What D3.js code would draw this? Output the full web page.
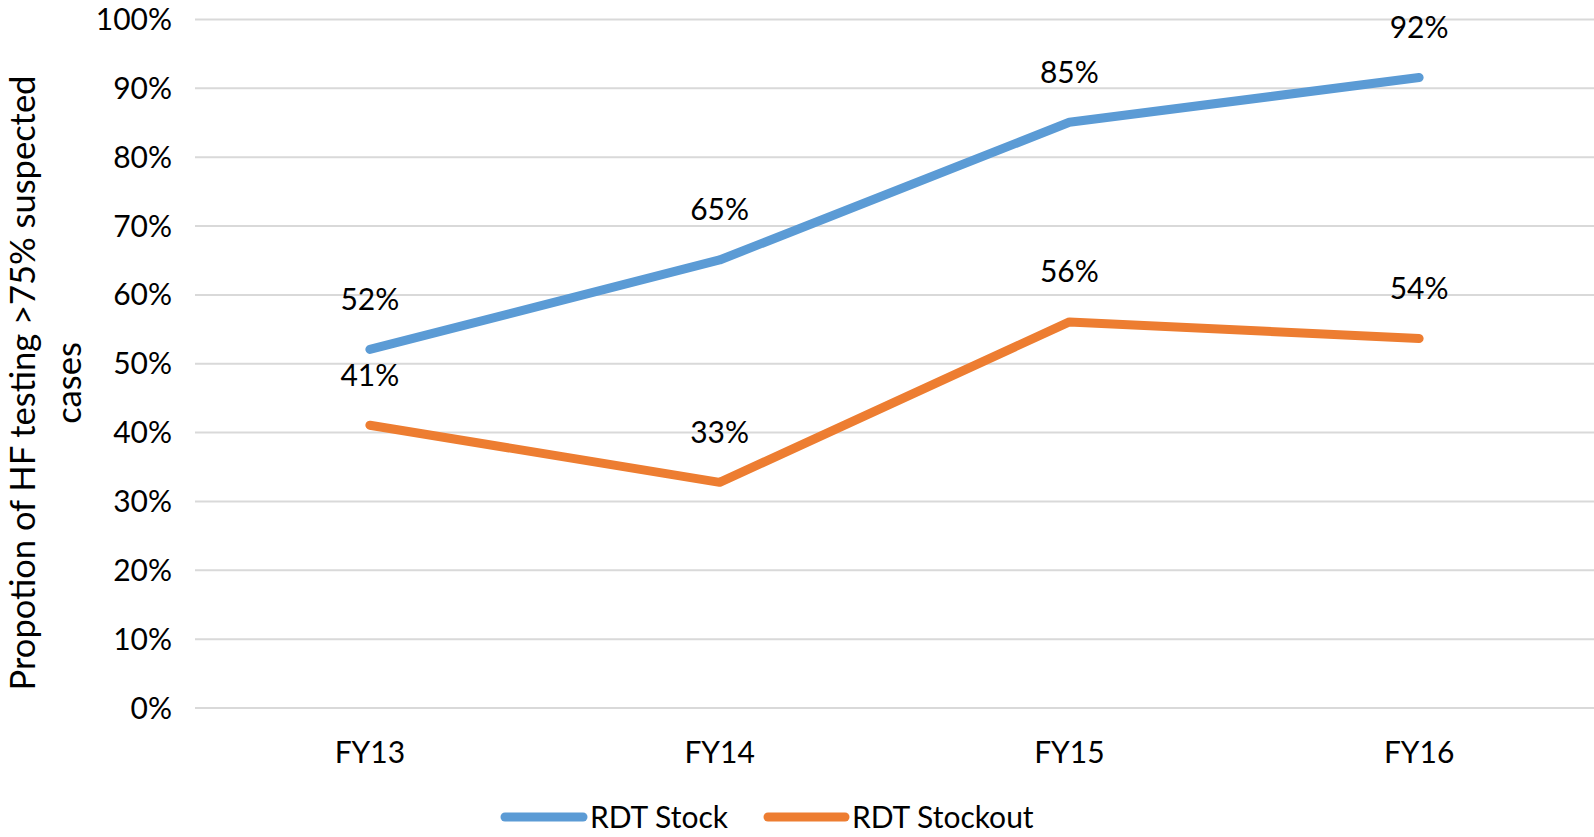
<!DOCTYPE html>
<html>
<head>
<meta charset="utf-8">
<script src="https://cdn.jsdelivr.net/npm/d3@7"></script>
<style>
  html, body { margin: 0; padding: 0; background: #fff; }
  svg text { font-family: Lato, "Open Sans", sans-serif; fill: #000; }
</style>
</head>
<body>
<svg id="chart" width="1594" height="837"></svg>
<script>
const categories = ["FY13", "FY14", "FY15", "FY16"];
const seriesNames = ["RDT Stock", "RDT Stockout"];
const rdtStock = [0.52, 0.65, 0.85, 0.915];
const rdtStockout = [0.41, 0.327, 0.56, 0.536];
const stockLabels = ["52%", "65%", "85%", "92%"];
const stockoutLabels = ["41%", "33%", "56%", "54%"];
const yTicks = [0, 0.1, 0.2, 0.3, 0.4, 0.5, 0.6, 0.7, 0.8, 0.9, 1.0];
const colors = ["#5B9BD5", "#ED7D31"];

(function () {
const svg = d3.select("#chart");
const fs = 30;
const plotLeft = 195, plotRight = 1594, plotTop = 19, plotBottom = 707.5;

const x = d3.scaleBand().domain(categories).range([plotLeft, plotRight]).padding(0);
const y = d3.scaleLinear().domain([0, 1]).range([plotBottom, plotTop]);

// gridlines + y axis labels
const yAxis = d3.axisLeft(y).tickValues(yTicks).tickFormat(d3.format(".0%"))
  .tickSize(-(plotRight - plotLeft)).tickPadding(12);
const gy = svg.append("g").attr("transform", `translate(${plotLeft},0)`).call(yAxis);
gy.select(".domain").remove();
gy.selectAll(".tick line").attr("stroke", "#D9D9D9").attr("stroke-width", 2);
gy.selectAll(".tick text").attr("font-size", fs).attr("font-family", "Lato").attr("fill", "#000").attr("dy", "0.35em").attr("x", -23);

// x axis labels
const xAxis = d3.axisBottom(x).tickSize(0).tickPadding(0);
const gx = svg.append("g").attr("transform", `translate(0,${plotBottom})`).call(xAxis);
gx.select(".domain").remove();
gx.selectAll(".tick text").attr("font-size", fs).attr("font-family", "Lato").attr("fill", "#000").attr("y", 45).attr("dy", "0.35em");

const cx = d => x(d) + x.bandwidth() / 2;
const line = d3.line().x((d, i) => cx(categories[i])).y(d => y(d));

const series = [
  { name: seriesNames[0], values: rdtStock, labels: stockLabels, color: colors[0] },
  { name: seriesNames[1], values: rdtStockout, labels: stockoutLabels, color: colors[1] }
];

series.forEach(s => {
  svg.append("path").datum(s.values).attr("d", line)
    .attr("fill", "none").attr("stroke", s.color).attr("stroke-width", 9)
    .attr("stroke-linecap", "round").attr("stroke-linejoin", "round");
});
series.forEach(s => {
  svg.append("g").selectAll("text").data(s.values).join("text")
    .attr("x", (d, i) => cx(categories[i]))
    .attr("y", d => y(d) - 50)
    .attr("dy", "0.35em")
    .attr("text-anchor", "middle")
    .attr("font-size", fs)
    .text((d, i) => s.labels[i]);
});

// y axis title
const title = svg.append("text")
  .attr("transform", "translate(0,383) rotate(-90)")
  .attr("text-anchor", "middle")
  .attr("font-size", 34.5);
title.append("tspan").attr("x", 0).attr("y", 35).text("Propotion of HF testing >75% suspected");
title.append("tspan").attr("x", 0).attr("y", 81).text("cases");

// legend
const legendItems = [
  { name: seriesNames[0], color: colors[0], x1: 505, x2: 583, tx: 590 },
  { name: seriesNames[1], color: colors[1], x1: 768, x2: 845, tx: 852 }
];
const lg = svg.append("g");
legendItems.forEach(l => {
  lg.append("line").attr("x1", l.x1).attr("x2", l.x2).attr("y1", 817).attr("y2", 817)
    .attr("stroke", l.color).attr("stroke-width", 9).attr("stroke-linecap", "round");
  lg.append("text").attr("x", l.tx).attr("y", 817).attr("dy", "0.35em")
    .attr("font-size", fs).text(l.name);
});
})();
</script>
</body>
</html>
